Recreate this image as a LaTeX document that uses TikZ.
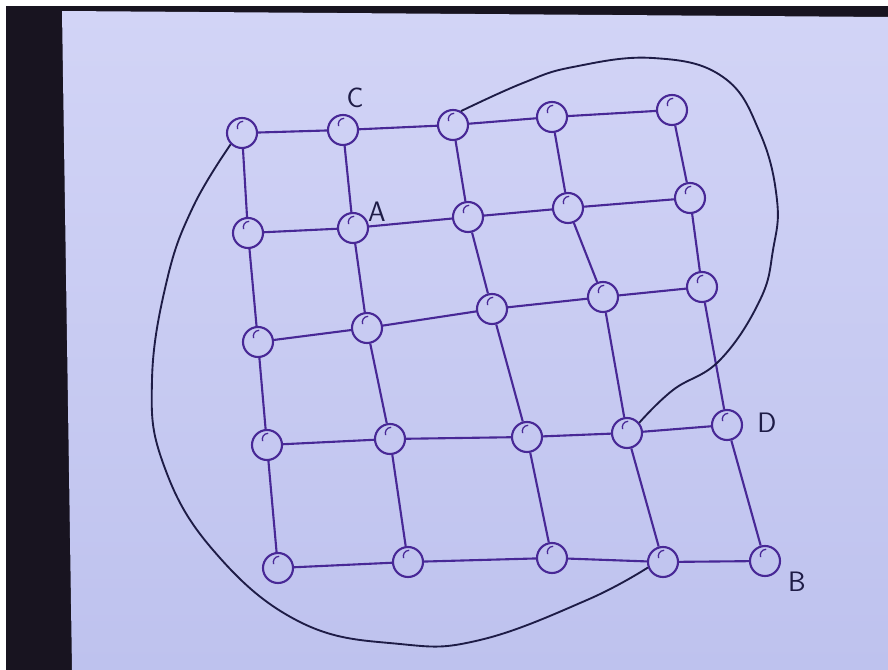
\documentclass[tikz,border=0pt]{standalone}
\usetikzlibrary{calc}
\definecolor{paper}{RGB}{190,194,238}
\definecolor{paperlt}{RGB}{210,212,246}
\definecolor{pen}{RGB}{72,40,150}
\definecolor{ink}{RGB}{30,28,70}
\definecolor{desk}{RGB}{24,20,32}
\tikzset{
  vtx/.style={circle,draw=pen,line width=1.8pt,minimum size=0.9cm,inner sep=0pt,
    path picture={\draw[pen,line width=1.1pt]
      ([xshift=1pt,yshift=10pt]path picture bounding box.center)
      arc[start angle=90,end angle=200,radius=5pt];}},
  wire/.style={draw=pen,line width=1.8pt},
  cut/.style={draw=ink,line width=1.6pt},
  lbl/.style={font=\sffamily\fontsize{24}{24}\selectfont,text=ink}
}
\begin{document}
\begin{tikzpicture}[x=0.03cm,y=-0.03cm]
\useasboundingbox (0,0) rectangle (888,670);
% photo background
\fill[white] (0,0) rectangle (888,670);
\fill[desk] (6,6) rectangle (888,670);
\shade[top color=paperlt,bottom color=paper] (62,11) -- (888,17) -- (888,670) -- (72,670) -- cycle;

% vertices, row/column
\foreach \nm/\xx/\yy in {11/242/133,12/343/130,13/453/125,14/552/117,15/672/110,
  21/248/233,22/353/228,23/468/217,24/568/208,25/690/198,
  31/258/342,32/367/328,33/492/309,34/603/297,35/702/287,
  41/267/445,42/390/439,43/527/437,44/627/433,45/727/425,
  51/278/568,52/408/562,53/552/558,54/663/562,55/765/561}
  \node[vtx] (v\nm) at (\xx,\yy) {};

% grid edges
\foreach \r in {1,...,5}
  \foreach \c/\cc in {1/2,2/3,3/4,4/5}
    \draw[wire] (v\r\c) -- (v\r\cc);
\foreach \r/\rr in {1/2,2/3,3/4,4/5}
  \foreach \c in {1,...,5}
    \draw[wire] (v\r\c) -- (v\rr\c);

% the closed curve
\draw[cut] plot[smooth,tension=0.7] coordinates {(v11.225) (193,207) (167,280)
  (152,380) (163,463) (213,550) (300,622) (400,644) (480,640) (587,600) (v54.200)};
\draw[cut] plot[smooth,tension=0.7] coordinates {(v13.60) (523,83) (573,67)
  (653,58) (723,77) (760,133) (777,200) (773,250) (760,300) (720,360) (673,390) (v44.40)};

\node[lbl] (lC) at (355,98) {C};
\node[lbl] (lA) at (377,212) {A};
\node[lbl] (lD) at (767,423) {D};
\node[lbl] (lB) at (797,582) {B};
\end{tikzpicture}
\end{document}
